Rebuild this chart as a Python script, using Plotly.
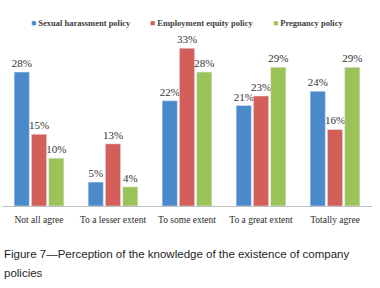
import plotly.graph_objects as go

categories = ["Not all agree", "To a lesser extent", "To some extent", "To a great extent", "Totally agree"]
sexual = [28, 5, 22, 21, 24]
employment = [15, 13, 33, 23, 16]
pregnancy = [10, 4, 28, 29, 29]
series_names = ["Sexual harassment policy", "Employment equity policy", "Pregnancy policy"]
colors = ["#4A8ACB", "#D35E5A", "#9CC35A"]
legend_x = [0.073, 0.395, 0.728]

fig = go.Figure()
for name, vals, col in zip(series_names, [sexual, employment, pregnancy], colors):
    fig.add_trace(go.Bar(
        x=categories, y=vals, name=name, marker_color=col,
        text=[f"{v}%" for v in vals], textposition="outside",
        textfont=dict(family="Liberation Serif", size=11, color="#333333"),
        constraintext="none", cliponaxis=False,
    ))

annotations = []
for name, col, lx in zip(series_names, colors, legend_x):
    annotations.append(dict(
        text=f'<span style="color:{col}">■</span> <b>{name}</b>',
        xref="paper", yref="paper", x=lx, xanchor="left", y=1.04, yanchor="middle",
        showarrow=False, font=dict(family="Liberation Serif", size=8.5, color="#404040"),
    ))
caption_lines = ["Figure 7—Perception of the knowledge of the existence of company", "policies"]
for line, yy in zip(caption_lines, [-0.2727, -0.3807]):
    annotations.append(dict(
        text=line, xref="paper", yref="paper", x=0, xanchor="left", y=yy, yanchor="middle",
        showarrow=False, align="left",
        font=dict(family="Liberation Sans", size=11.5, color="#1E1E1E"),
    ))

fig.update_layout(
    width=380, height=288,
    margin=dict(l=2, r=8, t=30, b=82, autoexpand=False),
    paper_bgcolor="white", plot_bgcolor="white",
    barmode="group", bargap=0.3, bargroupgap=0.12,
    showlegend=False,
    xaxis=dict(showline=True, linecolor="#BFBFBF", linewidth=1, ticks="",
               ticklabelstandoff=5,
               tickfont=dict(family="Liberation Serif", size=9.5, color="#2A2A2A")),
    yaxis=dict(range=[0, 36.8], visible=False, showgrid=False),
    annotations=annotations,
)

fig.write_html("out.html", config={"displayModeBar": False},
               post_script="document.body.style.margin='0';")
